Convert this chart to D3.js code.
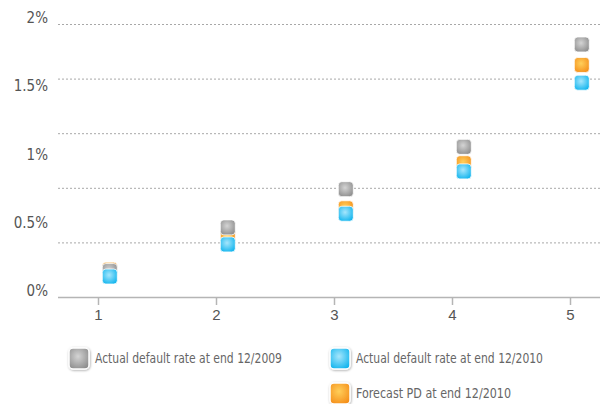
<!DOCTYPE html>
<html lang="en">
<head>
<meta charset="utf-8">
<title>Default rates</title>
<script src="https://d3js.org/d3.v7.min.js"></script>
<style>
  body { margin: 0; background: #fff; }
  text { font-family: "Liberation Sans Narrow", "DejaVu Sans Condensed", "Liberation Sans", sans-serif; }
</style>
</head>
<body>
<script>
// data
var classes = [1, 2, 3, 4, 5];
var actual2009 = [0.19, 0.51, 0.79, 1.10, 1.85];
var forecast2010 = [0.20, 0.44, 0.65, 0.98, 1.70];
var actual2010 = [0.15, 0.385, 0.61, 0.92, 1.57];
var yLabels = [0, 0.5, 1, 1.5, 2];
var gridTicks = [0, 0.4, 0.8, 1.2, 1.6, 2.0];

var w = 602, h = 404;
var svg = d3.select("body").append("svg").attr("width", w).attr("height", h);

var xScale = d3.scaleLinear().domain([1, 5]).range([98, 570]);
var yScale = d3.scaleLinear().domain([0, 2]).range([297, 24]);

// gradients
var defs = svg.append("defs");
function grad(id, c1, c2) {
  var g = defs.append("radialGradient").attr("id", id).attr("cx", "45%").attr("cy", "40%").attr("r", "65%");
  g.append("stop").attr("offset", "0%").attr("stop-color", c1);
  g.append("stop").attr("offset", "100%").attr("stop-color", c2);
}
grad("gGray", "#d4d4d4", "#8e8e8e");
grad("gBlue", "#a6e6fc", "#12b5ee");
grad("gOrange", "#ffcf5a", "#f5901b");
var sh = defs.append("filter").attr("id", "shadow").attr("x", "-30%").attr("y", "-30%").attr("width", "160%").attr("height", "160%");
sh.append("feDropShadow").attr("dx", 0.6).attr("dy", 0.8).attr("stdDeviation", 0.8).attr("flood-color", "#000").attr("flood-opacity", 0.35);

// dotted gridlines
svg.append("g").selectAll("line").data(gridTicks.slice(1)).enter().append("line")
  .attr("x1", 58).attr("x2", 600)
  .attr("y1", d => yScale(d) + 0.5).attr("y2", d => yScale(d) + 0.5)
  .attr("stroke", "#a8a8a8").attr("stroke-width", 1).attr("stroke-dasharray", "2,2");

// y labels
svg.append("g").selectAll("text").data(yLabels).enter().append("text")
  .attr("x", 48).attr("y", d => yScale(d) - 1)
  .attr("text-anchor", "end").attr("fill", "#555").attr("font-size", 15)
  .text(d => d + "%");

// x axis
var xAxis = d3.axisBottom(xScale).tickValues(classes).tickSize(8).tickPadding(4).tickFormat(d3.format("d"));
var gx = svg.append("g").attr("transform", "translate(0,297)").call(xAxis);
gx.select(".domain").remove();
gx.append("line").attr("x1", 58).attr("x2", 600).attr("y1", 0.5).attr("y2", 0.5).attr("stroke", "#b5b5b5").attr("stroke-width", 1.5);
gx.selectAll(".tick line").attr("stroke", "#b5b5b5").attr("stroke-width", 1.5);
gx.selectAll(".tick text").attr("fill", "#555").attr("font-size", 15)
  .style("font-family", "'Liberation Sans Narrow', 'Liberation Sans', sans-serif");

// markers
var series = [
  { vals: forecast2010, fill: "url(#gOrange)" },
  { vals: actual2009, fill: "url(#gGray)" },
  { vals: actual2010, fill: "url(#gBlue)" }
];
var s = 15;
series.forEach(function (ser) {
  svg.append("g").selectAll("rect").data(classes).enter().append("rect")
    .attr("x", (d, i) => xScale(d + 0.1) - s / 2)
    .attr("y", (d, i) => yScale(ser.vals[i]) - s / 2)
    .attr("width", s).attr("height", s).attr("rx", 3.5)
    .attr("fill", ser.fill).attr("stroke", "#fff").attr("stroke-width", 0.8);
});

// legend
var legend = [
  { label: "Actual default rate at end 12/2009", fill: "url(#gGray)", x: 69, y: 348, len: 187 },
  { label: "Actual default rate at end 12/2010", fill: "url(#gBlue)", x: 330, y: 348, len: 187 },
  { label: "Forecast PD at end 12/2010", fill: "url(#gOrange)", x: 330, y: 383, len: 155 }
];
var lg = svg.append("g").selectAll("g").data(legend).enter().append("g");
lg.append("rect")
  .attr("x", d => d.x).attr("y", d => d.y).attr("width", 20).attr("height", 21).attr("rx", 4)
  .attr("fill", d => d.fill).attr("stroke", "#fff").attr("stroke-width", 1.5)
  .attr("filter", "url(#shadow)");
lg.append("text")
  .attr("x", d => d.x + 26).attr("y", d => d.y + 15)
  .attr("fill", "#666").attr("font-size", 14)
  .attr("textLength", d => d.len).attr("lengthAdjust", "spacingAndGlyphs")
  .text(d => d.label);
</script>
</body>
</html>
